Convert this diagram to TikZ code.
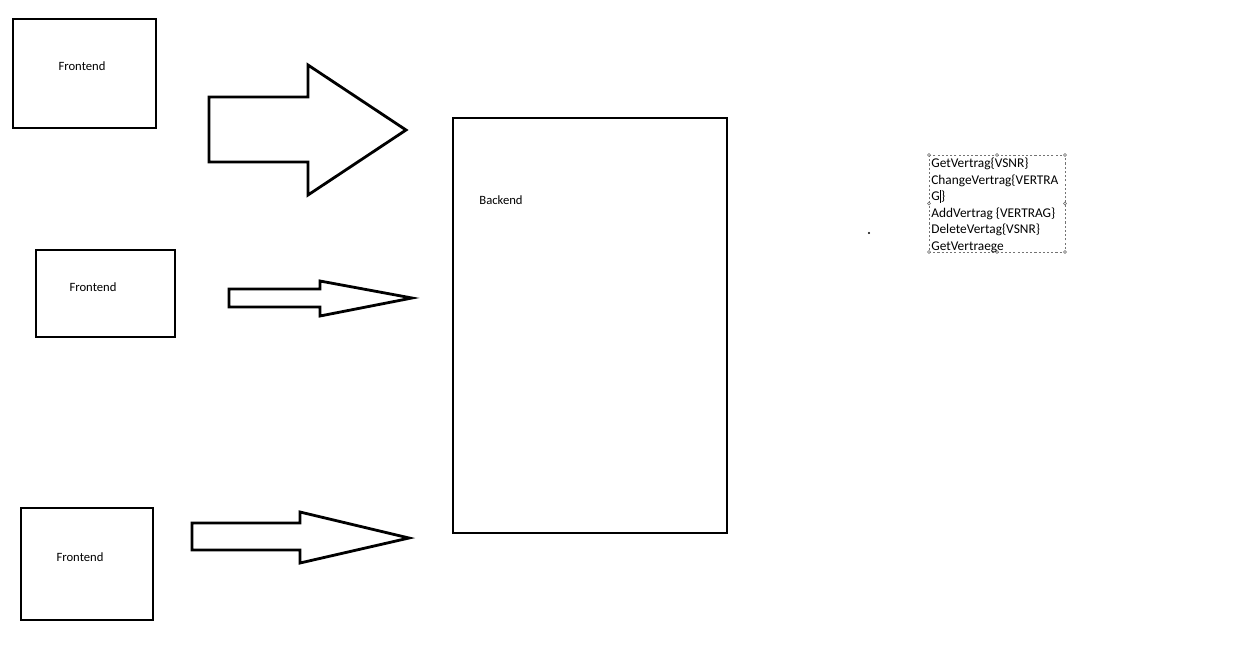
\documentclass[tikz,border=0pt]{standalone}
\usepackage{fontspec}
\setmainfont{Carlito}

\begin{document}
\begin{tikzpicture}[x=0.02cm,y=-0.02cm]
\useasboundingbox (0,0) rectangle (1237,653);
\tikzset{box/.style={line width=1.6pt},
  label/.style={font=\fontsize{7.2}{8.6}\selectfont,inner sep=0pt},
  handle/.style={draw=black!60,fill=white,line width=0.3pt}}
% frontends
\draw[box] (13,19) rectangle (156,128);
\node[label] (fe1) at (82,66) {Frontend};
\draw[box] (36,250) rectangle (175,337);
\node[label] (fe2) at (93,287) {Frontend};
\draw[box] (21,508) rectangle (153,620);
\node[label] (fe3) at (80,557) {Frontend};
% backend
\draw[box] (453,118) rectangle (727,533);
\node[label] (be) at (501,200) {Backend};
% block arrows
\draw[box,line join=miter] (209,97) -- (308,97) -- (308,65) -- (406,130) -- (308,195) -- (308,162) -- (209,162) -- cycle;
\draw[box,line join=miter] (229,289) -- (320,289) -- (320,281) -- (412,298) -- (320,316) -- (320,307) -- (229,307) -- cycle;
\draw[box,line join=miter] (192,523) -- (300,523) -- (300,512) -- (409,538) -- (300,563) -- (300,550) -- (192,550) -- cycle;
% text box
\draw[black!55,dashed,line width=0.4pt,dash pattern=on 1.2pt off 1.2pt] (929,155) rectangle (1065,252);
\foreach \hx/\hy in {929/155,997/155,1065/155,929/203.5,1065/203.5,929/252,997/252,1065/252}
  \draw[handle] (\hx,\hy) circle (1.4);
\node[font=\fontsize{7.6}{9.45}\selectfont,inner sep=0pt,anchor=north west,align=left] (ops) at (931,157.5)
  {GetVertrag\{VSNR\}\\
   ChangeVertrag\{VERTRA\\
   G\kern0.2pt\rule[-0.15em]{0.4pt}{0.95em}\kern0.2pt\}\\
   AddVertrag \{VERTRAG\}\\
   DeleteVertag\{VSNR\}\\
   GetVertraege};
\fill (869,233) circle (1.1);
\end{tikzpicture}
\end{document}
